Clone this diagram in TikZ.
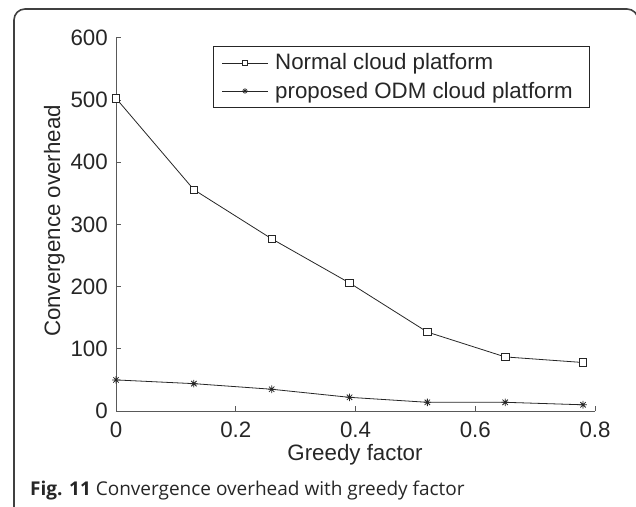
\documentclass[tikz,border=0pt]{standalone}
\usepackage{fontspec}
\setmainfont{Liberation Sans}
\newfontfamily\capfont{Open Sans}
\begin{document}
\begin{tikzpicture}[x=1pt,y=-1pt,
  font=\fontsize{22.3}{26}\selectfont,
  axisline/.style={line width=1pt, draw=black!65},
  dataline/.style={line width=0.8pt, draw=black!85},
  sqmark/.style={draw=black!85, fill=white, line width=0.8pt, rectangle, inner sep=0pt, minimum size=7.5pt},
  sqmarksmall/.style={sqmark, minimum size=5.5pt},
  astmark/.pic={\draw[line width=0.8pt, black!85] (-3.8pt,0)--(3.8pt,0) (0,-3.8pt)--(0,3.8pt)
       (-2.7pt,-2.7pt)--(2.7pt,2.7pt) (-2.7pt,2.7pt)--(2.7pt,-2.7pt);},
  astmarksmall/.pic={\draw[line width=0.6pt, black!85] (-2.8pt,0)--(2.8pt,0) (0,-2.8pt)--(0,2.8pt)
       (-2pt,-2pt)--(2pt,2pt) (-2pt,2pt)--(2pt,-2pt);},
  ticklabel/.style={inner sep=0pt, text=black!85}]
\useasboundingbox (0,0) rectangle (636,506);

% rounded panel frame, open at the bottom
\begin{scope}
  \clip (0,0) rectangle (636,506);
  \draw[line width=1.6pt, draw=black!75, rounded corners=11pt]
    (14,530) -- (14,9) -- (638,9) -- (638,530);
\end{scope}

% axes, ticks and data (x in units of greedy factor, y in overhead)
\begin{scope}[shift={(116,411)}, x=598.75pt, y=0.6217pt]
  \coordinate (origin) at (0,0);
  \coordinate (xend) at (0.8,0);
  \coordinate (yend) at (0,600);
  \draw[axisline] (yend) -- (origin) -- (xend);
  \foreach \v in {0,100,200,300,400,500,600} {
    \draw[axisline] (0,\v) -- ++(5pt,0);
    \node[ticklabel, anchor=east, xshift=-8pt] at (0,\v) {\v};
  }
  \foreach \v in {0,0.2,0.4,0.6,0.8} {
    \draw[axisline] (\v,0) -- ++(0,5.5pt);
    \node[ticklabel, anchor=north, yshift=-10.5pt] at (\v,0) {\v};
  }

  % normal cloud platform
  \coordinate (n0) at (0.00,503);
  \coordinate (n1) at (0.13,356);
  \coordinate (n2) at (0.26,277);
  \coordinate (n3) at (0.39,206);
  \coordinate (n4) at (0.52,127);
  \coordinate (n5) at (0.65,87);
  \coordinate (n6) at (0.78,78);
  % proposed ODM cloud platform
  \coordinate (p0) at (0.00,50);
  \coordinate (p1) at (0.13,44);
  \coordinate (p2) at (0.26,35);
  \coordinate (p3) at (0.39,22);
  \coordinate (p4) at (0.52,14);
  \coordinate (p5) at (0.65,14);
  \coordinate (p6) at (0.78,10);
\end{scope}

\draw[dataline] (n0) -- (n1) -- (n2) -- (n3) -- (n4) -- (n5) -- (n6);
\draw[dataline] (p0) -- (p1) -- (p2) -- (p3) -- (p4) -- (p5) -- (p6);
\foreach \i in {0,...,6} {
  \node[sqmark] (sq\i) at (n\i) {};
  \pic at (p\i) {astmark};
}

% axis titles
\node[ticklabel, anchor=base] (xlabel) at (355,460) {Greedy factor};
\node[ticklabel, anchor=base, rotate=90] (ylabel) at (60,221) {Convergence overhead};

% legend
\node[draw=black!85, line width=1pt, fill=white, inner sep=0pt, minimum width=376pt,
      minimum height=61pt, anchor=north west] (legend) at (213,46) {};
\coordinate (la1) at (222,63);
\coordinate (lb1) at (268,63);
\coordinate (la2) at (222,91);
\coordinate (lb2) at (268,91);
\draw[dataline] (la1) -- (lb1);
\draw[dataline] (la2) -- (lb2);
\node[sqmarksmall] (lsq) at (245,63) {};
\pic at (245,91) {astmarksmall};
\node[ticklabel, anchor=base west] (leg1) at (275,69.5) {Normal cloud platform};
\node[ticklabel, anchor=base west] (leg2) at (275,98.5) {proposed ODM cloud platform};

% caption
\node[inner sep=0pt, anchor=base west, text=black!85, font=\capfont\fontsize{19}{22}\selectfont]
  (caption) at (30,495) {\textbf{Fig. 11} Convergence overhead with greedy factor};
\end{tikzpicture}
\end{document}
